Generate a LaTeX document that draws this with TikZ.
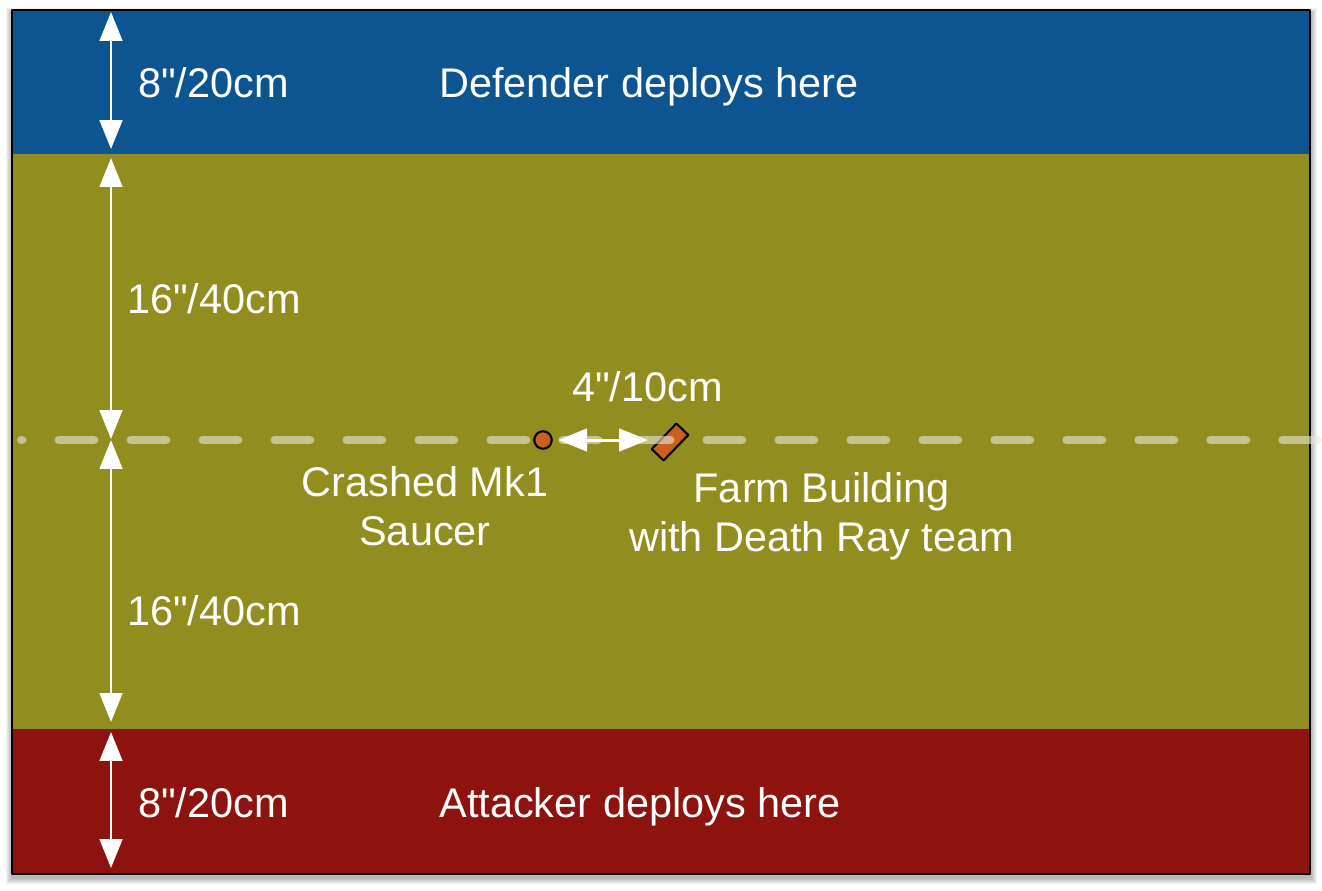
\documentclass[tikz,border=0pt]{standalone}
\usepackage{fontspec}
\setmainfont{Liberation Sans}[Ligatures = TeXOff]
\usetikzlibrary{arrows.meta}

\definecolor{defblue}{RGB}{12,85,144}
\definecolor{fieldolive}{RGB}{145,141,31}
\definecolor{attred}{RGB}{142,18,13}
\definecolor{rust}{RGB}{201,96,31}
\definecolor{midgrey}{RGB}{232,232,222}

\begin{document}
\begin{tikzpicture}[x = 0.02cm, y = -0.02cm, line cap = round, line join = round,
  dimarrow/.style = {white, line width = 1.7pt,
    {Triangle[length = 16.4pt, width = 12.8pt]}-{Triangle[length = 16.4pt, width = 12.8pt]}},
  txt/.style = {white, font = \fontsize{23.6pt}{27.5pt}\selectfont, inner sep = 0,
    anchor = base, align = center},
  midline/.style = {midgrey, opacity = 0.6, line width = 5.1pt,
    dash pattern = on 0.7cm off 0.74cm, dash phase = 0.69cm}]
  \useasboundingbox (0, 0) rectangle (1322, 890);

  % soft shadow under the board
  \foreach \s in {1, ..., 6}
    \fill[black, opacity = 0.05] (12 - \s, 14 - \s) rectangle (1311 + \s, 878 + \s);

  \fill[defblue] (12, 10) rectangle (1310, 154);
  \fill[fieldolive] (12, 154) rectangle (1310, 729);
  \fill[attred] (12, 729) rectangle (1310, 874);
  \draw[black, line width = 1.2pt] (12, 10) rectangle (1310, 874);

  \node[draw, line width = 1.2pt, fill = rust, minimum width = 0.71cm,
  minimum height = 0.33cm, inner sep = 0, rotate = 46] (farm) at (670, 442) {};

  \coordinate (midL) at (21.5, 440);
  \coordinate (midR) at (1330, 440);
  \draw[midline] (midL) -- (midR);

  \node[circle, draw, line width = 1.2pt, fill = rust, minimum size = 0.35cm,
  inner sep = 0] (saucer) at (543, 440) {};

  \coordinate (d1) at (111, 12);
  \coordinate (d2) at (111, 149);
  \coordinate (d3) at (111, 158);
  \coordinate (d4) at (111, 439);
  \coordinate (d5) at (111, 440);
  \coordinate (d6) at (111, 722);
  \coordinate (d7) at (111, 732);
  \coordinate (d8) at (111, 868);
  \draw[dimarrow] (d1) -- (d2);
  \draw[dimarrow] (d3) -- (d4);
  \draw[dimarrow] (d5) -- (d6);
  \draw[dimarrow] (d7) -- (d8);
  \draw[dimarrow, shorten <= 0.11cm, shorten >= 0.44cm]
    (saucer.east) -- (saucer.east -| farm.center);

  % two-line labels sit on the baseline of their last line
  \node[txt] (deftop) at (213.5, 97) {8"/20cm};
  \node[txt] (defender) at (649, 97) {Defender deploys here};
  \node[txt] (upper) at (214, 313) {16"/40cm};
  \node[txt] (gap) at (647.5, 401) {4"/10cm};
  \node[txt] (ufo) at (425, 545) {Crashed Mk1\\Saucer};
  \node[txt] (building) at (821.5, 551) {Farm Building\\with Death Ray team};
  \node[txt] (lower) at (214, 625) {16"/40cm};
  \node[txt] (attbot) at (213.5, 817) {8"/20cm};
  \node[txt] (attacker) at (640, 817) {Attacker deploys here};
\end{tikzpicture}
\end{document}
